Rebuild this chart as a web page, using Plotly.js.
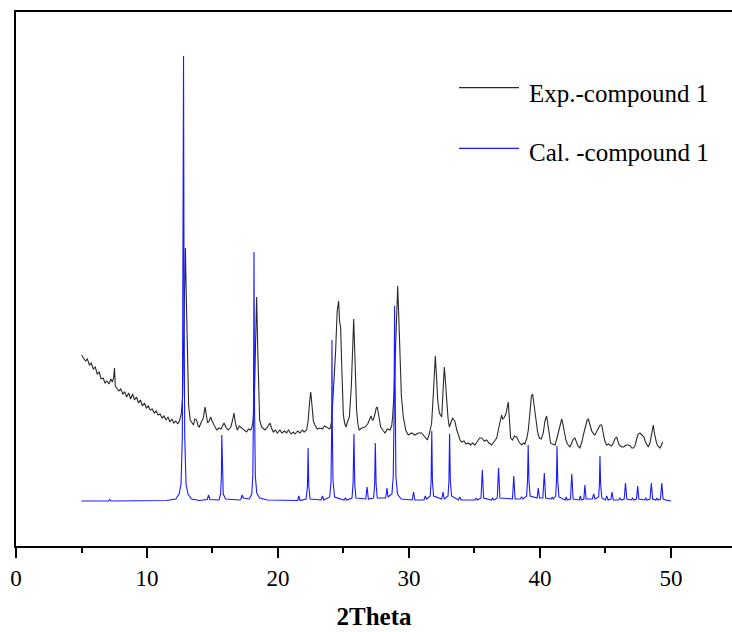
<!DOCTYPE html>
<html>
<head>
<meta charset="utf-8">
<script src="https://cdn.plot.ly/plotly-3.0.1.min.js"></script>
<style>
#chart svg text, #chart svg tspan { font-family: "Liberation Serif", "Times New Roman", Tinos, serif !important; }
</style>
</head>
<body style="margin:0;padding:0;background:#fff">
<div id="chart" style="width:732px;height:632px"></div>
<script>
// Experimental pattern (2Theta, intensity a.u.)
var expX = [5.0,5.15,5.3,5.45,5.6,5.75,5.9,6.05,6.2,6.35,6.5,6.65,6.8,6.95,7.1,7.25,7.35,7.45,7.52,7.58,7.7,7.85,8.0,8.15,8.3,8.45,8.6,8.75,8.9,9.05,9.2,9.35,9.5,9.65,9.8,9.95,10.1,10.25,10.4,10.55,10.7,10.85,11.0,11.15,11.3,11.45,11.6,11.75,11.9,12.05,12.2,12.35,12.5,12.62,12.72,12.82,12.93,13.0,13.08,13.18,13.3,13.41,13.55,13.65,13.79,13.9,13.99,14.15,14.3,14.43,14.53,14.63,14.75,14.86,15.0,15.15,15.32,15.5,15.65,15.88,16.05,16.2,16.4,16.52,16.64,16.76,16.9,17.05,17.23,17.4,17.6,17.75,17.9,17.99,18.1,18.2,18.28,18.37,18.45,18.52,18.6,18.75,18.88,19.0,19.15,19.28,19.39,19.5,19.64,19.8,19.95,20.15,20.3,20.5,20.66,20.8,21.0,21.17,21.3,21.5,21.68,21.85,22.0,22.19,22.3,22.42,22.5,22.6,22.7,22.82,23.0,23.2,23.4,23.55,23.72,23.85,23.97,24.1,24.2,24.27,24.4,24.52,24.63,24.7,24.78,24.88,24.99,25.1,25.2,25.3,25.45,25.6,25.7,25.78,25.86,25.93,26.0,26.1,26.2,26.4,26.64,26.85,27.0,27.1,27.2,27.28,27.4,27.5,27.58,27.7,27.84,28.0,28.17,28.35,28.55,28.68,28.75,28.85,28.95,29.05,29.14,29.22,29.31,29.42,29.57,29.75,29.95,30.2,30.46,30.7,30.97,31.1,31.22,31.4,31.55,31.73,31.85,31.95,32.01,32.1,32.2,32.32,32.42,32.5,32.6,32.7,32.78,32.88,32.98,33.08,33.2,33.33,33.43,33.5,33.65,33.77,33.9,34.02,34.2,34.35,34.53,34.7,34.85,35.04,35.2,35.4,35.55,35.75,35.93,36.1,36.31,36.5,36.7,36.85,37.0,37.07,37.15,37.25,37.4,37.5,37.58,37.66,37.76,37.9,38.05,38.22,38.4,38.6,38.75,38.85,39.0,39.11,39.25,39.35,39.44,39.55,39.69,39.82,39.95,40.1,40.25,40.38,40.51,40.62,40.72,40.81,40.95,41.15,41.3,41.45,41.57,41.66,41.75,41.86,41.98,42.1,42.29,42.45,42.55,42.67,42.8,42.9,43.05,43.2,43.35,43.5,43.6,43.69,43.8,43.95,44.1,44.2,44.35,44.5,44.6,44.71,44.82,44.95,45.09,45.25,45.35,45.47,45.6,45.72,45.85,45.95,46.05,46.24,46.4,46.55,46.74,46.9,47.0,47.13,47.25,47.4,47.5,47.63,47.75,47.85,47.94,48.05,48.15,48.27,48.4,48.5,48.58,48.65,48.72,48.8,48.9,49.0,49.16,49.25,49.36];
var expY = [191,188,185,187,181,183,177,179,172,174,167,168,163,165,162,167,164,168,178,160,158,155,157,152,154,149,153,147,152,146,149,143,146,140,143,138,140,136,137,133,135,131,132,128,130,126,129,124,127,123,125,122,126,132,150,210,298,250,180,140,126,124,121,127,126,120,119,124,128,139,128,123,125,129,124,120,116,118,117,123,118,116,119,125,133,122,116,120,118,116,114,117,116,118,125,150,200,249,200,150,126,119,117,116,118,121,123,118,114,116,113,116,113,115,113,116,112,114,112,115,113,116,114,116,125,145,154,140,125,121,117,118,117,120,119,118,117,125,150,158,195,235,245,225,219,175,131,122,119,124,129,160,210,227,195,160,136,122,116,118,119,122,127,130,126,126,132,138,139,128,119,116,113,117,116,120,129,150,190,235,260,230,189,150,129,116,111,113,111,113,113,111,109,106,112,123,150,182,190,170,145,133,131,129,155,179,165,143,128,119,124,128,126,125,116,111,106,104,105,102,103,101,103,101,104,108,108,105,106,103,101,104,108,118,128,131,127,128,132,140,144,128,108,106,110,109,104,101,103,102,108,116,138,150,152,140,126,114,108,107,113,125,130,120,108,103,102,101,108,117,125,127,122,112,106,102,99,104,107,108,103,100,98,104,113,122,126,127,121,115,112,111,115,119,121,121,114,105,101,102,101,100,103,107,109,105,101,99,99,101,101,100,98,98,100,108,112,113,111,110,109,104,101,99,103,110,118,121,114,107,103,100,98,100,104];

// Calculated pattern (2Theta, intensity a.u.)
var calX = [5.0,7.05,7.15,7.25,11.5,12.2,12.45,12.6,12.7,12.75,12.79,12.83,12.88,12.98,13.13,13.4,14.0,14.6,14.7,14.8,15.5,15.62,15.68,15.71,15.75,15.82,16.0,17.1,17.2,17.27,17.35,17.8,18.0,18.08,18.13,18.17,18.21,18.27,18.38,18.6,19.2,21.5,21.59,21.68,22.15,22.25,22.3,22.35,22.45,23.3,23.4,23.5,23.95,24.05,24.1,24.12,24.15,24.2,24.32,25.05,25.15,25.25,25.65,25.73,25.8,25.86,25.95,26.7,26.8,26.9,27.3,27.38,27.43,27.49,27.58,28.22,28.32,28.4,28.7,28.8,28.86,28.9,28.95,29.0,29.12,29.4,30.25,30.35,30.45,31.15,31.24,31.35,31.62,31.69,31.74,31.79,31.88,32.5,32.6,32.7,32.98,33.05,33.1,33.16,33.25,33.78,33.88,33.98,35.05,35.13,35.22,35.5,35.6,35.7,36.3,36.38,36.48,36.74,36.84,36.94,37.9,38.0,38.1,38.5,38.6,38.7,38.98,39.05,39.1,39.16,39.25,39.78,39.87,39.96,40.22,40.33,40.43,40.85,40.94,41.02,41.2,41.26,41.3,41.36,41.45,41.92,42.0,42.08,42.33,42.43,42.53,43.0,43.08,43.16,43.35,43.43,43.52,44.0,44.1,44.2,44.48,44.54,44.58,44.63,44.72,45.0,45.1,45.2,45.42,45.5,45.6,46.0,46.1,46.2,46.43,46.53,46.63,46.98,47.07,47.16,47.37,47.46,47.55,47.98,48.07,48.16,48.4,48.5,48.6,48.85,48.93,49.02,49.2,49.3,49.4,49.6,50.0];
var calY = [45,45,46.5,45,45.5,47,52,62,110,250,490,250,110,62,52,47,45.5,46.5,51,46.5,46,52,70,111,70,52,47,46,48,51,48,47,52,70,140,294,140,70,53,48,46,45.5,50,45.5,47,60,98,60,47,46,50,46,49,65,120,206,120,65,49,46,48,46,48,62,112,62,48,47,59,47,48,62,103,62,48,48,58,49,52,70,130,240,130,70,52,47,46,54,46,46,50,47,50,65,115,65,50,47,54,47,50,65,112,65,50,46,49,46,46,48,46,48,76,48,46,48,46,48,78,48,47,70,47,47,49,47,50,65,101,65,50,48,58,48,48,73,48,47,49,47,50,65,100,65,49,46,49,46,47,72,47,46,50,46,47,61,47,47,52,47,49,62,90,62,48,46,50,46,47,54,46,46,48,46,47,63,47,46,48,46,47,60,47,46,48,46,47,63,47,46,48,46,47,63,47,46,45];

var xTickVals = [0,10,20,30,40,50];
var xTickText = ["0","10","20","30","40","50"];
var seriesNames = ["Exp.-compound 1","Cal. -compound 1"];
var seriesColors = ["#2a2a2a","#1a1aff"];

var traces = [
  {x: expX, y: expY, type: "scatter", mode: "lines", name: seriesNames[0],
   line: {color: seriesColors[0], width: 1.1}, showlegend: false},
  {x: calX, y: calY, type: "scatter", mode: "lines", name: seriesNames[1],
   line: {color: seriesColors[1], width: 1.1}, showlegend: false}
];

var fam = "Liberation Serif";

var layout = {
  width: 732, height: 632,
  margin: {l: 16, r: 0, t: 12, b: 86, pad: 0},
  paper_bgcolor: "#ffffff", plot_bgcolor: "#ffffff",
  showlegend: false,
  font: {family: fam, color: "#000"},
  xaxis: {
    range: [0, 54.66], showgrid: false, zeroline: false,
    showline: true, mirror: true, linecolor: "#000", linewidth: 1.8,
    ticks: "outside", ticklen: 10, tickwidth: 1.5, tickcolor: "#000",
    tickvals: xTickVals, ticktext: xTickText,
    minor: {dtick: 5, tick0: 5, ticks: "outside", ticklen: 5, tickwidth: 1.5, tickcolor: "#000", showgrid: false},
    tickfont: {family: fam, size: 23, color: "#000"},
    title: {text: "<b>2Theta</b>", font: {family: fam, size: 25, color: "#000"}, standoff: 18}
  },
  yaxis: {
    range: [0, 534], showgrid: false, zeroline: false,
    showline: true, linecolor: "#000", linewidth: 1.8,
    ticks: "", showticklabels: false
  },
  shapes: [
    {type: "line", xref: "paper", yref: "paper", x0: 0.6187, x1: 0.7025, y0: 0.8582, y1: 0.8582,
     line: {color: seriesColors[0], width: 1.2}},
    {type: "line", xref: "paper", yref: "paper", x0: 0.6187, x1: 0.7025, y0: 0.7448, y1: 0.7448,
     line: {color: seriesColors[1], width: 1.2}}
  ],
  annotations: [
    {xref: "paper", yref: "paper", x: 0.714, y: 0.8478, xanchor: "left", yanchor: "middle",
     text: seriesNames[0], showarrow: false, font: {family: fam, size: 25, color: "#000"}},
    {xref: "paper", yref: "paper", x: 0.714, y: 0.7371, xanchor: "left", yanchor: "middle",
     text: seriesNames[1], showarrow: false, font: {family: fam, size: 25, color: "#000"}}
  ]
};

Plotly.newPlot("chart", traces, layout, {displayModeBar: false});
</script>
</body>
</html>
